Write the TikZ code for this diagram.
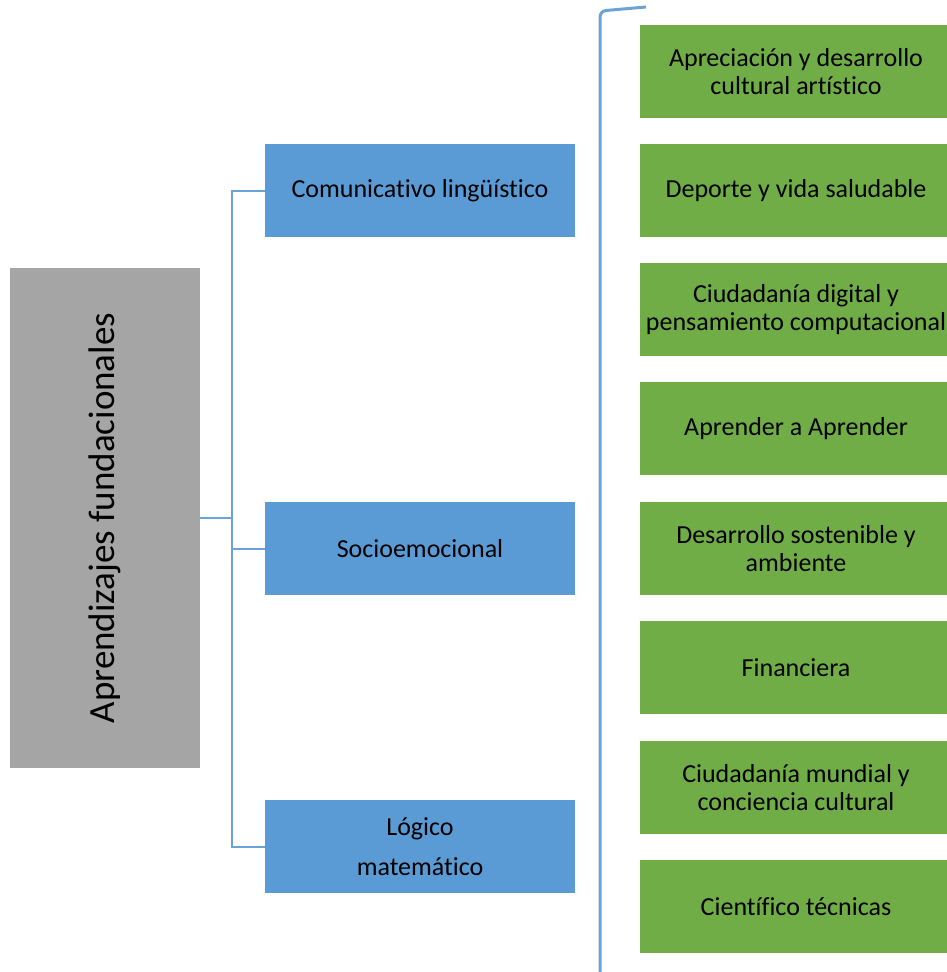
\documentclass[tikz,border=0pt]{standalone}
\usepackage{fontspec}
\setmainfont[Ligatures=NoCommon]{Carlito}
\definecolor{grisbox}{HTML}{A5A5A5}
\definecolor{azulbox}{HTML}{5B9BD5}
\definecolor{verdebox}{HTML}{70AD47}
\definecolor{lineaazul}{HTML}{6AA3DA}
\tikzset{
  caja/.style={minimum height=93, inner sep=0pt, align=center,
    font=\fontsize{26}{28}\selectfont},
  azul/.style={caja, fill=azulbox, minimum width=310},
  verde/.style={caja, fill=verdebox, minimum width=312},
  conector/.style={draw=lineaazul, line width=2pt},
  llave/.style={draw=lineaazul, line width=3pt, rounded corners=6}
}
\begin{document}
\begin{tikzpicture}[x=1pt,y=-1pt]
    \useasboundingbox (0,0) rectangle (946,972);
    % bloque central
    \node[fill=grisbox, minimum width=190, minimum height=500, inner sep=0pt] (gris) at (105,518) {};
    \node[rotate=90, font=\fontsize{37}{42}\selectfont] (titulo) at (gris.center) {Aprendizajes fundacionales};
    % areas
    \node[azul] (comun) at (420,190.5) {Comunicativo lingüístico};
    \node[azul] (socio) at (420,548.5) {Socioemocional};
    \node[azul] (logico) at (420,846.5) {Lógico\\[12pt]matemático};
    % competencias
    \node[verde] (aprec) at (796,71.5) {Apreciación y desarrollo\\cultural artístico};
    \node[verde] (deporte) at (796,190.5) {Deporte y vida saludable};
    \node[verde] (ciudig) at (796,309.5) {Ciudadanía digital y\\pensamiento computacional};
    \node[verde] (aprender) at (796,428.5) {Aprender a Aprender};
    \node[verde] (sosten) at (796,548.5) {Desarrollo sostenible y\\ambiente};
    \node[verde] (finan) at (796,667.5) {Financiera};
    \node[verde] (ciumun) at (796,787.5) {Ciudadanía mundial y\\conciencia cultural};
    \node[verde] (cientif) at (796,906.5) {Científico técnicas};
    % conectores
    \coordinate (rama) at (232,518);
    \draw[conector] (gris.east) -- (rama);
    \draw[conector] (comun.west) -| (rama);
    \draw[conector] (logico.west) -| (rama);
    \draw[conector] (socio.west) -- (socio.west -| rama);
    % llave
    \coordinate (llavetop) at (646,7);
    \coordinate (llavebot) at (600,975);
    \draw[llave] (llavetop) -- (600,11) -- (llavebot);
\end{tikzpicture}
\end{document}
